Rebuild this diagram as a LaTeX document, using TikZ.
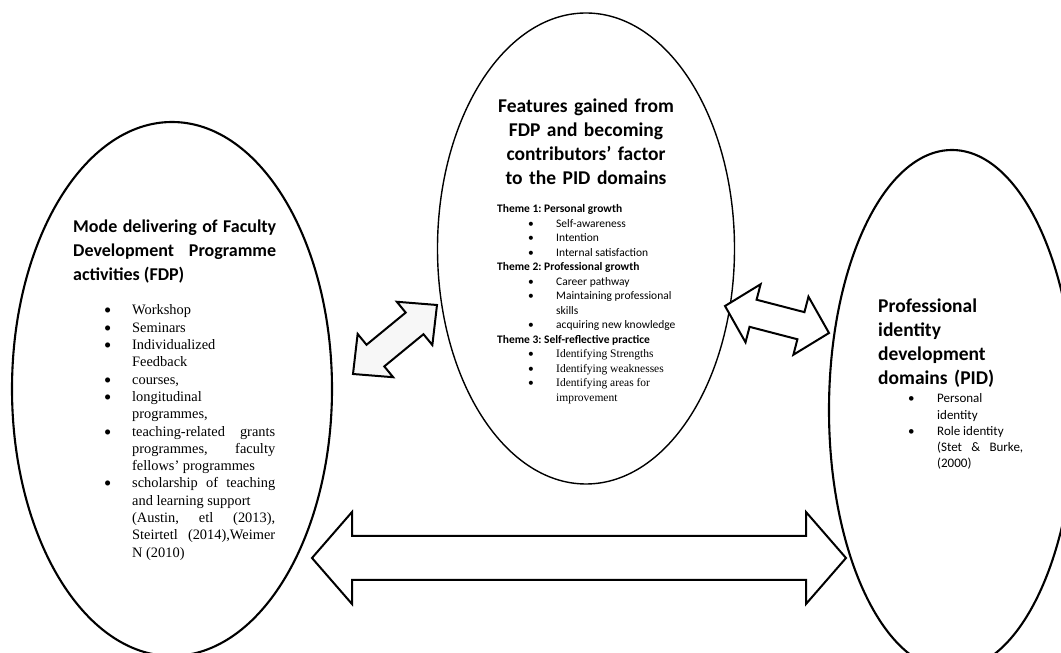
\documentclass[tikz,border=0pt]{standalone}
\usepackage{fontspec}
\setmainfont{Liberation Serif}
\newfontfamily\calibri{Carlito}
\usetikzlibrary{shapes.geometric,calc}
\frenchspacing

% one bullet paragraph: {indent}{bullet box}{text}
\newcommand{\dotitem}[3]{\noindent\hangindent=\dimexpr#1+#2\relax\hangafter=1
  \hspace*{#1}\makebox[#2][l]{\calibri\textbullet}{#3}\par}

% block arrow with two heads: [options]{from}{to}{head length}{head half width}{shaft half width}
\newcommand{\dblarrow}[6][]{\draw[blockarrow, #1] (#2)
  -- ($(#2)!#4!(#3)!#5!90:(#3)$) -- ($(#2)!#4!(#3)!#6!90:(#3)$)
  -- ($(#3)!#4!(#2)!#6!-90:(#2)$) -- ($(#3)!#4!(#2)!#5!-90:(#2)$)
  -- (#3)
  -- ($(#3)!#4!(#2)!#5!90:(#2)$) -- ($(#3)!#4!(#2)!#6!90:(#2)$)
  -- ($(#2)!#4!(#3)!#6!-90:(#3)$) -- ($(#2)!#4!(#3)!#5!-90:(#3)$)
  -- cycle;}

\tikzset{
  oval/.style = {draw, ellipse, line width=2.1pt, inner sep=0pt},
  blockarrow/.style = {draw, fill=white, line width=2pt, line join=miter},
  headtext/.style = {inner sep=0pt, font=\calibri\bfseries\fontsize{#1}{23.8}\selectfont},
  listtext/.style = {inner sep=0pt, align=none}
}

\begin{document}
\begin{tikzpicture}[x=1pt, y=1pt]
\useasboundingbox (0,0) rectangle (1061,653);
\clip (0,0) rectangle (1061,653);

% the three domains
\node[oval, minimum width=320pt, minimum height=534pt] (fdp) at (172,264) {};
\node[oval, line width=1.4pt, minimum width=297pt, minimum height=471pt] (feat) at (586,404.5) {};
\node[oval, minimum width=246pt, minimum height=520pt] (pid) at (952,243) {};

% arrows between them
\coordinate (fdp-in) at (353,279);
\coordinate (feat-in) at (437,348);
\coordinate (feat-out) at (725,347);
\coordinate (pid-in) at (829,320);
\coordinate (fdp-low) at (312,95);
\coordinate (pid-low) at (846,95);
\dblarrow[fill=gray!6]{fdp-in}{feat-in}{29pt}{28pt}{14pt}
\dblarrow{feat-out}{pid-in}{29pt}{30pt}{14pt}
\dblarrow{fdp-low}{pid-low}{40pt}{46pt}{22pt}

% left: FDP
\node[headtext=18, text width=203pt, align=justify, anchor=base west] (fdphead) at (73,420)
  {Mode delivering of Faculty\linebreak Development Programme\linebreak activities (FDP)};
\node[listtext, text width=171pt, anchor=base west, font=\fontsize{14.4}{17.3}\selectfont] (fdplist) at (104,338)
  {\dotitem{0pt}{28pt}{Workshop}
  \dotitem{0pt}{28pt}{Seminars}
  \dotitem{0pt}{28pt}{Individualized\newline Feedback}
  \dotitem{0pt}{28pt}{courses,}
  \dotitem{0pt}{28pt}{longitudinal\newline programmes,}
  \dotitem{0pt}{28pt}{teaching-related grants\linebreak programmes, faculty\linebreak fellows’ programmes}
  \dotitem{0pt}{28pt}{scholarship of teaching\linebreak and learning support\newline (Austin, etl (2013),\linebreak Steirtetl (2014),Weimer\linebreak N (2010)}};

% middle: features
\node[headtext=19.5, text width=220pt, align=center, anchor=base] (feathead) at (586,540)
  {Features gained from\\ FDP and becoming\\ contributors’ factor\\ to the PID domains};
\node[listtext, text width=184pt, anchor=base west, font=\calibri\fontsize{11.5}{14.5}\selectfont] (featlist) at (497,440)
  {\noindent\textbf{Theme 1: Personal growth}\par
  \dotitem{31pt}{28pt}{Self-awareness}
  \dotitem{31pt}{28pt}{Intention}
  \dotitem{31pt}{28pt}{Internal satisfaction}
  \noindent\textbf{Theme 2: Professional growth}\par
  \dotitem{31pt}{28pt}{Career pathway}
  \dotitem{31pt}{28pt}{Maintaining professional\newline skills}
  \dotitem{31pt}{28pt}{acquiring new knowledge}
  \noindent\textbf{Theme 3: Self-reflective practice}\par
  \dotitem{31pt}{28pt}{\rmfamily Identifying Strengths}
  \dotitem{31pt}{28pt}{\rmfamily Identifying weaknesses}
  \dotitem{31pt}{28pt}{\rmfamily Identifying areas for\newline improvement}};

% right: PID
\node[headtext=19.5, text width=140pt, align=left, anchor=base west] (pidhead) at (878,340)
  {Professional\\ identity\\ development\\ domains (PID)};
\node[listtext, text width=115pt, anchor=base west, font=\calibri\fontsize{13}{16.2}\selectfont] (pidlist) at (908,250)
  {\dotitem{0pt}{29pt}{Personal\newline identity}
  \dotitem{0pt}{29pt}{Role identity\newline (Stet \& Burke,\linebreak (2000)}};
\end{tikzpicture}
\end{document}
